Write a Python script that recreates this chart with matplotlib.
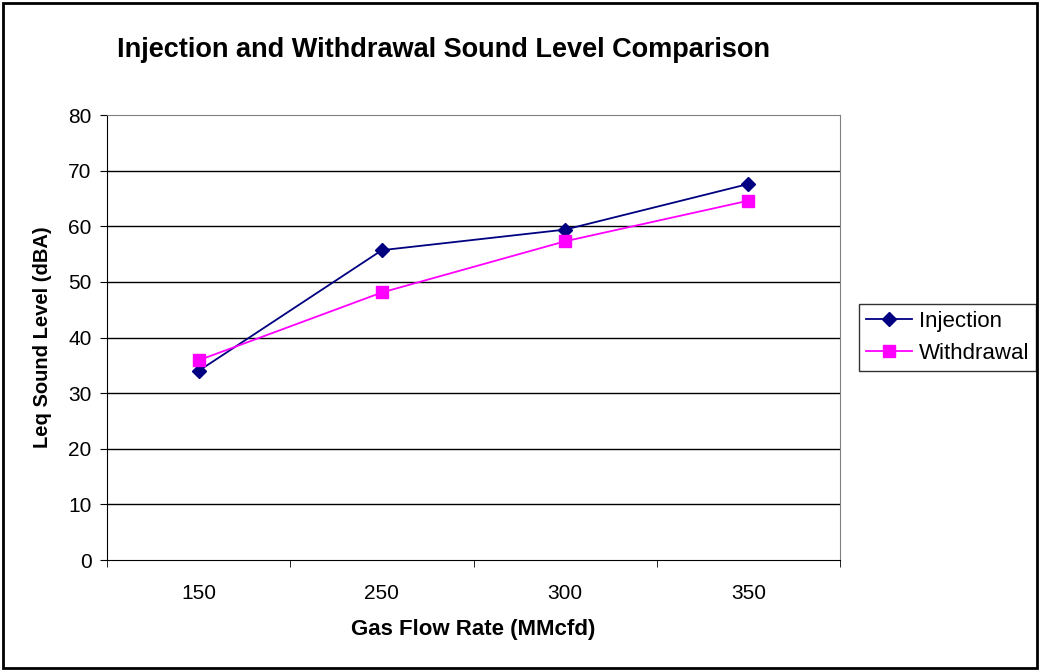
import matplotlib
matplotlib.use("Agg")
import matplotlib.pyplot as plt
from matplotlib.patches import Rectangle

categories = ["150", "250", "300", "350"]
injection = [34.0, 55.7, 59.4, 67.6]
withdrawal = [35.9, 48.1, 57.3, 64.6]

plt.rcParams['font.family'] = ['Liberation Sans', 'DejaVu Sans']

fig = plt.figure(figsize=(10.4, 6.71), dpi=100)
ax = fig.add_axes([0.1029, 0.1654, 0.7048, 0.6632])

x = list(range(len(categories)))
ax.plot(x, injection, color='#000080', marker='D', markersize=7, linewidth=1.3, label='Injection')
ax.plot(x, withdrawal, color='#FF00FF', marker='s', markersize=8, linewidth=1.3, label='Withdrawal')

ax.set_xlim(-0.5, 3.5)
ax.set_ylim(0, 80)
ax.set_yticks(range(0, 81, 10))
ax.set_xticks(x)
ax.set_xticklabels(categories)
ax.set_xticks([-0.5, 0.5, 1.5, 2.5, 3.5], minor=True)
ax.tick_params(axis='x', which='major', length=0, pad=17, labelsize=15)
ax.tick_params(axis='x', which='minor', length=5, direction='out', color='black')
ax.tick_params(axis='y', length=5, direction='out', labelsize=15, pad=6)

for v in range(10, 80, 10):
    ax.axhline(v, color='black', linewidth=1, zorder=0)

for side in ['top', 'right']:
    ax.spines[side].set_color('#808080')
for side in ['left', 'bottom']:
    ax.spines[side].set_color('black')

ax.set_xlabel('Gas Flow Rate (MMcfd)', fontsize=16, fontweight='bold', labelpad=12)
ax.set_ylabel('Leq Sound Level (dBA)', fontsize=14.5, fontweight='bold', labelpad=12)

fig.text(0.426, 0.925, 'Injection and Withdrawal Sound Level Comparison',
         fontsize=19.5, fontweight='bold', ha='center', va='center')

leg = ax.legend(loc='center left', bbox_to_anchor=(1.026, 0.5), borderaxespad=0,
                fontsize=16, frameon=True, fancybox=False, edgecolor='black',
                handlelength=2.07, handletextpad=0.32, borderpad=0.3, labelspacing=0.5)
leg.get_frame().set_linewidth(1)

fig.patches.append(Rectangle((0.003, 0.004), 0.994, 0.992, transform=fig.transFigure,
                             fill=False, edgecolor='black', linewidth=2))

fig.savefig('out.png', dpi=100)
